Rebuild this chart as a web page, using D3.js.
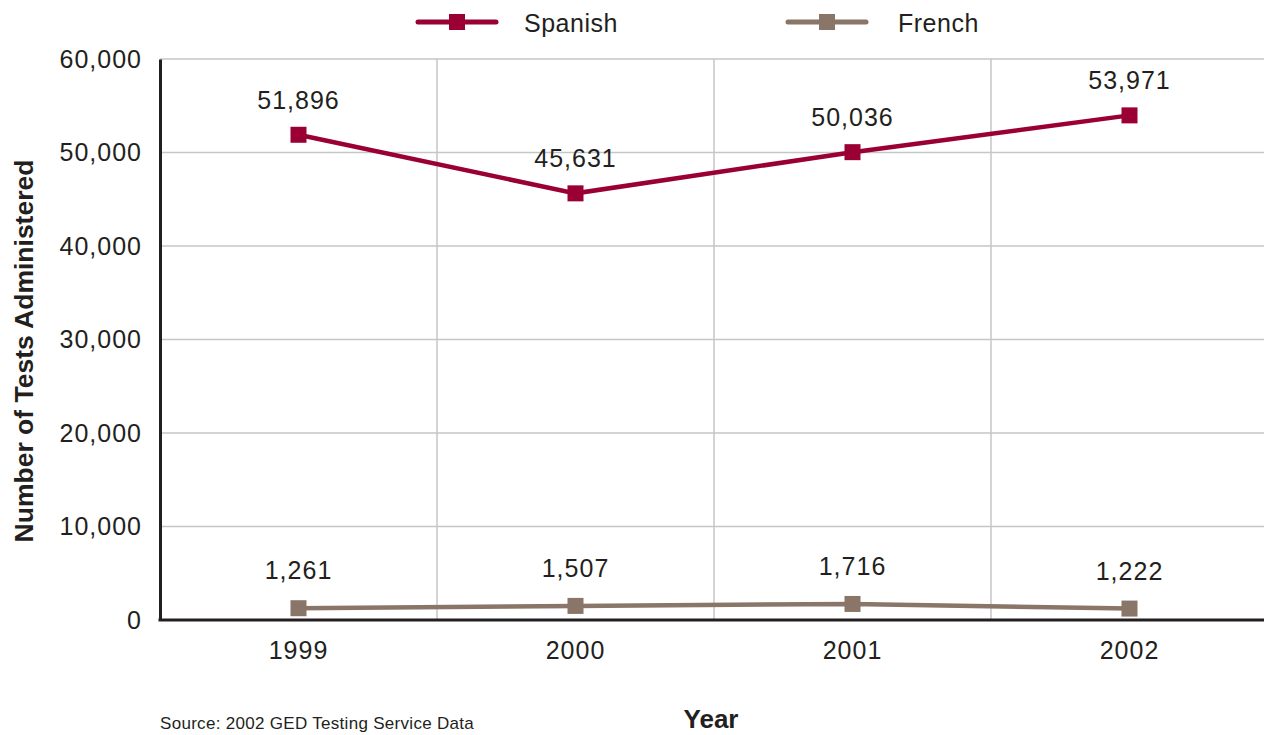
<!DOCTYPE html>
<html>
<head>
<meta charset="utf-8">
<script src="https://cdn.jsdelivr.net/npm/d3@7"></script>
<style>
  html, body { margin: 0; padding: 0; background: #fff; overflow: hidden; }
  svg { display: block; font-family: "Liberation Sans", Arial, sans-serif; }
</style>
</head>
<body>
<svg id="chart" width="1264" height="735"></svg>
<script>
// GED tests administered in Spanish and French, 1999–2002
const years = ["1999", "2000", "2001", "2002"];
const spanish = [51896, 45631, 50036, 53971];
const french = [1261, 1507, 1716, 1222];
const yTicks = [0, 10000, 20000, 30000, 40000, 50000, 60000];
const seriesNames = ["Spanish", "French"];
const seriesColors = ["#9a0033", "#8a7569"];

const svg = d3.select("#chart");
const textColor = "#231f20";
const fmt = d3.format(",");

const x = d3.scaleBand().domain(years).range([160, 1268]).padding(0);
const y = d3.scaleLinear().domain([0, 60000]).range([620, 59]);

// horizontal gridlines
svg.append("g")
  .selectAll("line")
  .data(yTicks)
  .join("line")
  .attr("x1", 160).attr("x2", 1264)
  .attr("y1", d => y(d)).attr("y2", d => y(d))
  .attr("stroke", "#c6c6c6").attr("stroke-width", 1.5);

// vertical gridlines at category boundaries
svg.append("g")
  .selectAll("line")
  .data(years.slice(1))
  .join("line")
  .attr("x1", d => x(d)).attr("x2", d => x(d))
  .attr("y1", y(60000)).attr("y2", y(0))
  .attr("stroke", "#c6c6c6").attr("stroke-width", 1.5);

// y axis
const yAxis = svg.append("g")
  .attr("transform", "translate(160,0)")
  .call(d3.axisLeft(y).tickValues(yTicks).tickFormat(fmt).tickSize(0).tickPadding(18));
yAxis.select(".domain").attr("stroke", textColor).attr("stroke-width", 3);
yAxis.selectAll("text")
  .attr("font-size", 25).attr("fill", textColor)
  .attr("font-family", "\"Liberation Sans\", Arial, sans-serif")
  .attr("letter-spacing", 1);

// x axis
const xAxis = svg.append("g")
  .attr("transform", "translate(0,620)")
  .call(d3.axisBottom(x).tickSize(0).tickPadding(21));
xAxis.select(".domain").remove();
svg.append("line")
  .attr("x1", 158.5).attr("x2", 1264)
  .attr("y1", y(0)).attr("y2", y(0))
  .attr("stroke", textColor).attr("stroke-width", 3);
xAxis.selectAll("text")
  .attr("font-size", 25).attr("fill", textColor)
  .attr("font-family", "\"Liberation Sans\", Arial, sans-serif")
  .attr("letter-spacing", 1);

// series lines, markers and value labels
const series = [spanish, french];
const line = d3.line().x((d, i) => x(years[i]) + x.bandwidth() / 2).y(d => y(d));

series.forEach((vals, s) => {
  const g = svg.append("g");
  g.append("path")
    .datum(vals)
    .attr("d", line)
    .attr("fill", "none")
    .attr("stroke", seriesColors[s])
    .attr("stroke-width", 4.5);
  g.selectAll("rect")
    .data(vals)
    .join("rect")
    .attr("x", (d, i) => x(years[i]) + x.bandwidth() / 2 - 8)
    .attr("y", d => y(d) - 8)
    .attr("width", 16).attr("height", 16)
    .attr("fill", seriesColors[s]);
  g.selectAll("text")
    .data(vals)
    .join("text")
    .attr("x", (d, i) => x(years[i]) + x.bandwidth() / 2)
    .attr("y", d => y(d) - (s === 0 ? 26 : 29))
    .attr("text-anchor", "middle")
    .attr("font-size", 25)
    .attr("letter-spacing", 1)
    .attr("fill", textColor)
    .text(d => fmt(d));
});

// legend
const legendX = [416, 786];
seriesNames.forEach((name, s) => {
  const lg = svg.append("g").attr("transform", `translate(${legendX[s]},22)`);
  lg.append("line")
    .attr("x1", 2).attr("x2", 80).attr("y1", 0).attr("y2", 0)
    .attr("stroke", seriesColors[s]).attr("stroke-width", 5)
    .attr("stroke-linecap", "round");
  lg.append("rect")
    .attr("x", 33).attr("y", -8).attr("width", 16).attr("height", 16)
    .attr("fill", seriesColors[s]);
  lg.append("text")
    .attr("x", s === 0 ? 108 : 112).attr("y", 10)
    .attr("font-size", 25)
    .attr("letter-spacing", 0.5)
    .attr("fill", textColor)
    .text(name);
});

// axis titles
svg.append("text")
  .attr("transform", "translate(33,351) rotate(-90)")
  .attr("text-anchor", "middle")
  .attr("font-size", 26.5)
  .attr("font-weight", "bold")
  .attr("fill", textColor)
  .text("Number of Tests Administered");

svg.append("text")
  .attr("x", 711).attr("y", 728)
  .attr("text-anchor", "middle")
  .attr("font-size", 26)
  .attr("font-weight", "bold")
  .attr("fill", textColor)
  .text("Year");

// source note
svg.append("text")
  .attr("x", 160).attr("y", 729)
  .attr("font-size", 17)
  .attr("letter-spacing", 0.3)
  .attr("fill", textColor)
  .text("Source:  2002 GED Testing Service Data");
</script>
</body>
</html>
